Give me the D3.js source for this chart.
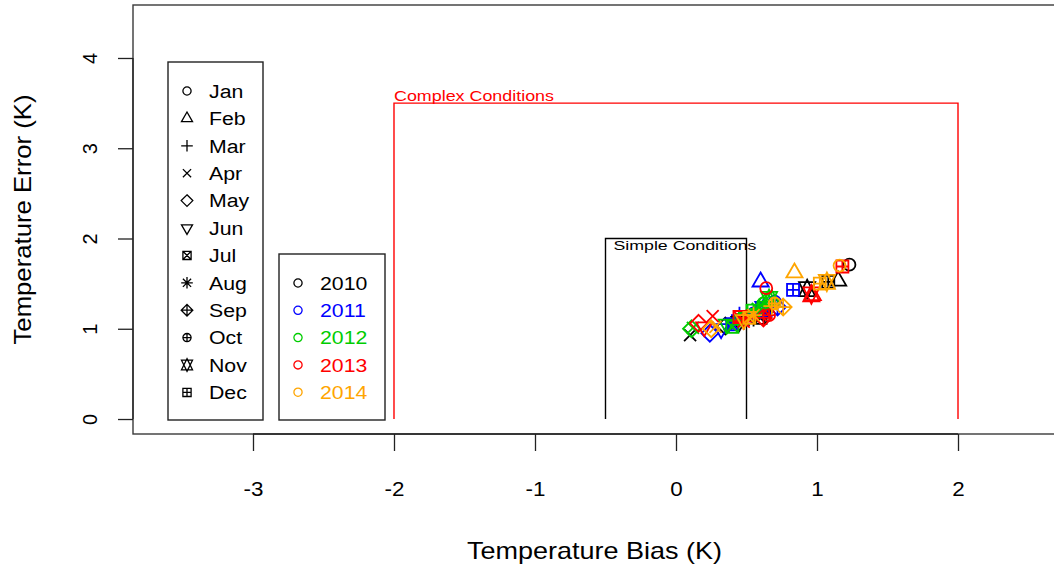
<!DOCTYPE html>
<html>
<head>
<meta charset="utf-8">
<script src="https://cdn.jsdelivr.net/npm/d3@7"></script>
<style>
  html, body { margin: 0; padding: 0; background: #fff; overflow: hidden; }
  svg { display: block; font-family: "Liberation Sans", Arial, Helvetica, sans-serif; }
</style>
</head>
<body>
<svg id="chart" width="1054" height="567"></svg>
<script>
// ---------------- data ----------------
const months = ["Jan","Feb","Mar","Apr","May","Jun","Jul","Aug","Sep","Oct","Nov","Dec"];
const monthPch = [1,2,3,4,5,6,7,8,9,10,11,12];
const years = ["2010","2011","2012","2013","2014"];
const yearColors = ["#000000","#0000FF","#00CD00","#FF0000","#FFA500"];

const bias2010 = [1.23,1.15,0.55,0.10,0.35,0.45,0.60,0.48,0.62,0.55,0.93,1.08];
const err2010  = [1.71,1.53,1.12,0.93,1.03,1.08,1.12,1.10,1.18,1.14,1.44,1.52];
const bias2011 = [0.70,0.60,0.45,0.38,0.24,0.32,0.40,0.60,0.72,0.55,0.62,0.83];
const err2011  = [1.30,1.52,1.15,1.05,0.95,1.00,1.05,1.20,1.24,1.17,1.22,1.43];
const bias2012 = [0.62,0.68,0.50,0.12,0.11,0.36,0.40,0.58,0.64,0.45,0.66,0.55];
const err2012  = [1.28,1.32,1.18,1.01,1.00,1.05,1.02,1.22,1.30,1.10,1.33,1.20];
const bias2013 = [0.64,0.97,0.50,0.26,0.16,0.20,0.45,0.48,0.62,0.66,0.96,1.18];
const err2013  = [1.45,1.37,1.12,1.14,1.06,1.02,1.13,1.08,1.12,1.15,1.38,1.69];
const bias2014 = [1.16,0.84,0.68,0.28,0.25,0.48,0.52,0.55,0.76,0.70,1.07,1.02];
const err2014  = [1.70,1.62,1.25,1.02,1.00,1.10,1.12,1.15,1.24,1.28,1.52,1.50];

const biasByYear = [bias2010, bias2011, bias2012, bias2013, bias2014];
const errByYear  = [err2010, err2011, err2012, err2013, err2014];

const xTicks = [-3,-2,-1,0,1,2];
const yTicks = [0,1,2,3,4];

const complexBox = {x0:-2, x1:2, y1:3.5, label:"Complex Conditions"};
const simpleBox  = {x0:-0.5, x1:0.5, y1:2, label:"Simple Conditions"};

const xTitle = "Temperature Bias (K)";
const yTitle = "Temperature Error (K)";

// ---------------- layout ----------------
const svg = d3.select("#chart");
const plotL = 133, plotR = 1056, plotT = 5, plotB = 434;
const x = d3.scaleLinear().domain([-3.851, 2.695]).range([plotL, plotR]);
const y = d3.scaleLinear().domain([-0.166, 4.587]).range([plotB, plotT]);
const stretch = 1.12;

// ---------------- symbols (R pch) ----------------
function pchPath(p, R) {
  const TRC0 = 1.5551, TRC1 = 1.3468, TRC2 = 0.7776, S2 = Math.SQRT2;
  const circle = r => `M${r},0A${r},${r} 0 1,1 ${-r},0A${r},${r} 0 1,1 ${r},0Z`;
  const plus = c => `M${-c},0L${c},0M0,${-c}L0,${c}`;
  const cross = c => `M${-c},${-c}L${c},${c}M${-c},${c}L${c},${-c}`;
  const square = c => `M${-c},${-c}L${c},${-c}L${c},${c}L${-c},${c}Z`;
  const diamond = c => `M0,${-c}L${c},0L0,${c}L${-c},0Z`;
  const triUp = () => `M0,${-TRC0*R}L${TRC1*R},${TRC2*R}L${-TRC1*R},${TRC2*R}Z`;
  const triDown = () => `M0,${TRC0*R}L${TRC1*R},${-TRC2*R}L${-TRC1*R},${-TRC2*R}Z`;
  switch (p) {
    case 1: return circle(R);
    case 2: return triUp();
    case 3: return plus(S2*R);
    case 4: return cross(R);
    case 5: return diamond(S2*R);
    case 6: return triDown();
    case 7: return square(R) + cross(R);
    case 8: return cross(R) + plus(S2*R);
    case 9: return diamond(S2*R) + plus(S2*R);
    case 10: return circle(R) + plus(R);
    case 11: {
      const r = TRC0*R, yc = 0.5*(TRC2*R + r), xc = TRC1*R;
      return `M0,${r}L${xc},${-yc}L${-xc},${-yc}Z` + `M0,${-r}L${xc},${yc}L${-xc},${yc}Z`;
    }
    case 12: return square(R) + plus(R);
  }
}

// ---------------- condition boxes ----------------
function condBox(b, color, lw) {
  const path = d3.path();
  path.moveTo(x(b.x0), y(0));
  path.lineTo(x(b.x0), y(b.y1));
  path.lineTo(x(b.x1), y(b.y1));
  path.lineTo(x(b.x1), y(0));
  svg.append("path").attr("d", path.toString())
    .attr("fill", "none").attr("stroke", color).attr("stroke-width", lw);
}
condBox(complexBox, "#FF0000", 1.4);
condBox(simpleBox, "#000000", 1.4);

svg.append("text").attr("x", x(complexBox.x0)).attr("y", y(complexBox.y1) - 2)
  .attr("fill", "#FF0000").attr("font-size", 14)
  .attr("textLength", 160).attr("lengthAdjust", "spacingAndGlyphs")
  .text(complexBox.label);
svg.append("text").attr("x", x(simpleBox.x0) + 8).attr("y", y(simpleBox.y1) + 12)
  .attr("fill", "#000").attr("font-size", 13.5)
  .attr("textLength", 143).attr("lengthAdjust", "spacingAndGlyphs")
  .text(simpleBox.label);

// ---------------- points ----------------
const ptR = 6.0;
years.forEach((yr, yi) => {
  const pts = months.map((m, mi) => ({b: biasByYear[yi][mi], e: errByYear[yi][mi], p: monthPch[mi]}));
  svg.append("g").selectAll("path").data(pts).join("path")
    .attr("transform", d => `translate(${x(d.b)},${y(d.e)})`)
    .attr("d", d => pchPath(d.p, ptR))
    .attr("fill", "none").attr("stroke", yearColors[yi]).attr("stroke-width", 1.8);
});

// ---------------- plot box ----------------
svg.append("rect").attr("x", plotL).attr("y", plotT)
  .attr("width", plotR - plotL).attr("height", plotB - plotT)
  .attr("fill", "none").attr("stroke", "#3a3a3a").attr("stroke-width", 1.4);

// ---------------- axes ----------------
const xAxis = svg.append("g").attr("transform", `translate(0,${plotB})`)
  .call(d3.axisBottom(x).tickValues(xTicks).tickSize(17).tickFormat(d3.format("d")));
xAxis.select(".domain").remove();
xAxis.selectAll(".tick line").attr("stroke", "#222").attr("stroke-width", 1.3);
xAxis.selectAll(".tick text").attr("y", null).attr("dy", null)
  .attr("transform", `translate(0,62) scale(${stretch},1)`)
  .attr("font-size", 20).attr("fill", "#000")
  .attr("font-family", "'Liberation Sans', Arial, sans-serif")
  .text(d => d < 0 ? "-" + Math.abs(d) : String(d));
svg.append("line").attr("x1", x(xTicks[0])).attr("x2", x(xTicks[xTicks.length-1]))
  .attr("y1", plotB).attr("y2", plotB).attr("stroke", "#222").attr("stroke-width", 1.3);

const yAxis = svg.append("g").attr("transform", `translate(${plotL},0)`)
  .call(d3.axisLeft(y).tickValues(yTicks).tickSize(15).tickFormat(d3.format("d")));
yAxis.select(".domain").remove();
yAxis.selectAll(".tick line").attr("stroke", "#222").attr("stroke-width", 1.3);
yAxis.selectAll(".tick text").attr("x", null).attr("dy", null)
  .attr("transform", "translate(-36,0) rotate(-90)")
  .attr("text-anchor", "middle")
  .attr("font-size", 20).attr("fill", "#000")
  .attr("font-family", "'Liberation Sans', Arial, sans-serif");
svg.append("line").attr("x1", plotL).attr("x2", plotL)
  .attr("y1", y(yTicks[0])).attr("y2", y(yTicks[yTicks.length-1]))
  .attr("stroke", "#222").attr("stroke-width", 1.3);

// titles
svg.append("text").attr("x", (plotL + plotR) / 2).attr("y", 559)
  .attr("text-anchor", "middle").attr("font-size", 24).attr("fill", "#000")
  .attr("textLength", 255).attr("lengthAdjust", "spacingAndGlyphs")
  .text(xTitle);
svg.append("text").attr("transform", `translate(31,${(plotT + plotB) / 2}) rotate(-90)`)
  .attr("text-anchor", "middle").attr("font-size", 24).attr("fill", "#000")
  .attr("textLength", 250).attr("lengthAdjust", "spacingAndGlyphs")
  .text(yTitle);

// ---------------- legends ----------------
const leg1 = {x0:168, x1:263, y0:62, y1:420, first:91, step:27.4, sx:187, tx:209};
svg.append("rect").attr("x", leg1.x0).attr("y", leg1.y0)
  .attr("width", leg1.x1 - leg1.x0).attr("height", leg1.y1 - leg1.y0)
  .attr("fill", "#fff").attr("stroke", "#222").attr("stroke-width", 1.4);
const g1 = svg.append("g").selectAll("g").data(months).join("g")
  .attr("transform", (d, i) => `translate(0,${leg1.first + i * leg1.step})`);
g1.append("path").attr("transform", `translate(${leg1.sx},0)`)
  .attr("d", (d, i) => pchPath(monthPch[i], 4.1))
  .attr("fill", "none").attr("stroke", "#000").attr("stroke-width", 1.3);
g1.append("text").attr("transform", `translate(${leg1.tx},6.8) scale(${stretch},1)`)
  .attr("font-size", 19).attr("fill", "#000").text(d => d);

const leg2 = {x0:279, x1:385, y0:254, y1:420, first:283, step:27.3, sx:298, tx:320};
svg.append("rect").attr("x", leg2.x0).attr("y", leg2.y0)
  .attr("width", leg2.x1 - leg2.x0).attr("height", leg2.y1 - leg2.y0)
  .attr("fill", "#fff").attr("stroke", "#222").attr("stroke-width", 1.4);
const g2 = svg.append("g").selectAll("g").data(years).join("g")
  .attr("transform", (d, i) => `translate(0,${leg2.first + i * leg2.step})`);
g2.append("path").attr("transform", `translate(${leg2.sx},0)`)
  .attr("d", pchPath(1, 4.1))
  .attr("fill", "none").attr("stroke", (d, i) => yearColors[i]).attr("stroke-width", 1.3);
g2.append("text").attr("transform", `translate(${leg2.tx},6.8) scale(${stretch},1)`)
  .attr("font-size", 19).attr("fill", (d, i) => yearColors[i]).text(d => d);
</script>
</body>
</html>
